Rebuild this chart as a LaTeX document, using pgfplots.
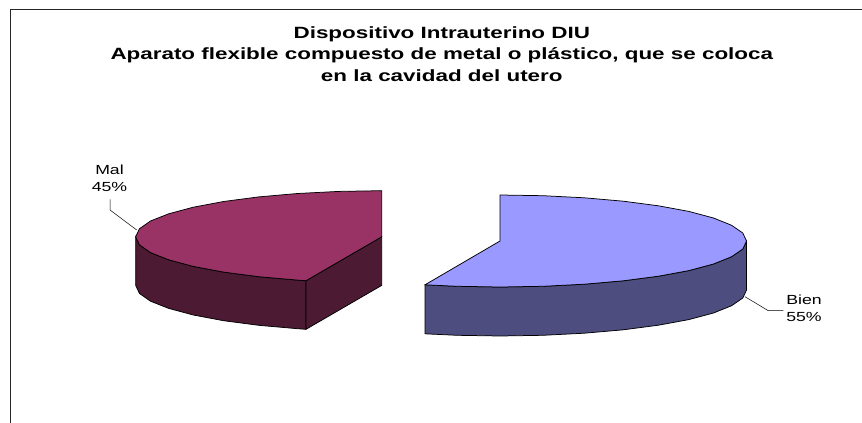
\documentclass[border=0pt]{standalone}
\usepackage{fontspec}
\setmainfont{Liberation Sans}
\newfontfamily\widefont[FakeStretch=1.34]{Liberation Sans}
\newfontfamily\titlefont[FakeStretch=1.375]{Liberation Sans}
\usepackage{pgfplots}
\pgfplotsset{compat=1.18}
\definecolor{malTop}{HTML}{993366}
\definecolor{malSide}{HTML}{4D1A33}
\definecolor{bienTop}{HTML}{9999FF}
\definecolor{bienSide}{HTML}{4D4D80}
\begin{document}
\begin{tikzpicture}
\begin{axis}[
  width=862bp, height=423bp, scale only axis,
  xmin=0, xmax=862, ymin=0, ymax=423, y dir=reverse,
  hide axis, clip=true,
  pie/.style={draw=black, line width=0.75bp},
]
% white page, keeps the picture at full size
\addplot[draw=none, fill=white] coordinates {(0,0) (862,0) (862,423) (0,423)} -- cycle;
% chart frame
\addplot[black!85, line width=1.4bp] coordinates {(10.7,423) (10.7,9.3) (862,9.3)};

% Mal 45%
\addplot[pie, fill=malSide] coordinates {
  (135.7,236.8) (135.7,285.4) (139.4,293.4) (150.5,301.2) (168.7,308.4) (193.3,315) (223.6,320.7) (258.7,325.3) (297.6,328.7) (306,329.3)
  (306,280.7) (297.6,280.1) (258.7,276.7) (223.6,272.1) (193.3,266.4) (168.7,259.8) (150.5,252.6) (139.4,244.8)} -- cycle;
\addplot[pie, fill=malSide] coordinates {
  (306,280.7) (306,329.3) (381.7,285.4) (381.7,236.8)} -- cycle;
\addplot[pie, fill=malTop] coordinates {
  (381.7,190.7) (339,191.4) (297.6,193.5) (258.7,196.9) (223.6,201.5) (193.3,207.2) (168.7,213.8) (150.5,221) (139.4,228.8) (135.7,236.8)
  (139.4,244.8) (150.5,252.6) (168.7,259.8) (193.3,266.4) (223.6,272.1) (258.7,276.7) (297.6,280.1) (306,280.7) (381.7,236.8)} -- cycle;
\addplot[black, line width=0.5bp] coordinates {(110,199.3) (110,210) (136.7,230)};
\node[align=center, font=\widefont\fontsize{13.2bp}{17bp}\selectfont] at (axis cs:109.5,178.7) {Mal\\45\%};

% Bien 55%
\addplot[pie, fill=bienSide] coordinates {
  (425,284.8) (425,333.8) (457.2,335.3) (500,336) (542.8,335.3) (584.3,333.2) (623.3,329.8) (658.4,325.2) (688.8,319.6)
  (713.5,313) (731.6,305.7) (742.8,298) (746.5,290) (746.5,241) (742.8,249) (731.6,256.7) (713.5,264) (688.8,270.6)
  (658.4,276.2) (623.3,280.8) (584.3,284.2) (542.8,286.3) (500,287) (457.2,286.3)} -- cycle;
\addplot[pie, fill=bienTop] coordinates {
  (500,195) (542.8,195.7) (584.3,197.8) (623.3,201.2) (658.4,205.8) (688.8,211.4) (713.5,218) (731.6,225.3) (742.8,233) (746.5,241)
  (742.8,249) (731.6,256.7) (713.5,264) (688.8,270.6) (658.4,276.2) (623.3,280.8) (584.3,284.2) (542.8,286.3) (500,287) (457.2,286.3)
  (425,284.8) (500,241)} -- cycle;
\addplot[black, line width=0.5bp] coordinates {(745,296.7) (768.3,310.7) (783.3,310.7)};
\node[align=center, font=\widefont\fontsize{13.2bp}{17bp}\selectfont] at (axis cs:804,308.7) {Bien\\55\%};

% title
\node[align=center, font=\titlefont\bfseries\fontsize{16.3bp}{21.5bp}\selectfont] at (axis cs:441.8,54)
  {Dispositivo Intrauterino DIU\\Aparato flexible compuesto de metal o plástico, que se coloca\\en la cavidad del utero};
\end{axis}
\end{tikzpicture}
\end{document}
